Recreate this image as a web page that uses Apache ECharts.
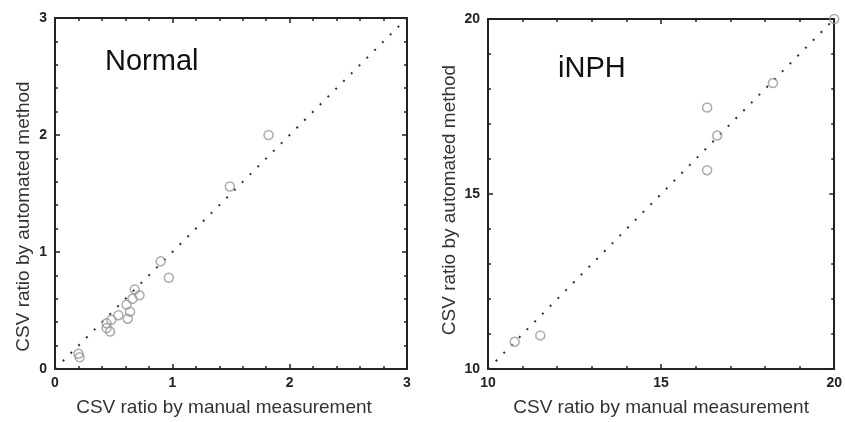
<!DOCTYPE html>
<html>
<head>
<meta charset="utf-8">
<script src="https://cdn.jsdelivr.net/npm/echarts@6/dist/echarts.min.js"></script>
<style>html,body{margin:0;padding:0;background:#fff}#c{width:845px;height:422px}</style>
</head>
<body>
<div id="c"></div>
<script>
// ---- data ----
const normalManual = [1.82, 1.49, 0.90, 0.97, 0.68, 0.72, 0.66, 0.61, 0.64, 0.62, 0.54, 0.48, 0.44, 0.44, 0.47, 0.20, 0.21];
const normalAuto   = [2.00, 1.56, 0.92, 0.78, 0.68, 0.63, 0.60, 0.55, 0.49, 0.43, 0.46, 0.42, 0.39, 0.35, 0.32, 0.13, 0.10];
const inphManual = [10.77, 11.51, 16.33, 16.33, 16.62, 18.23, 20.0];
const inphAuto   = [10.78, 10.96, 17.47, 15.68, 16.67, 18.17, 20.0];
const normalRange = [0, 3];
const inphRange = [10, 20];
const panelTitles = ['Normal', 'iNPH'];
const xName = 'CSV ratio by manual measurement';
const yName = 'CSV ratio by automated method';

const FONT = '"Liberation Sans", Arial, sans-serif';

function axis(range, interval, opts) {
  return Object.assign({
    type: 'value', min: range[0], max: range[1], interval: interval,
    axisLine: { show: true, onZero: false, lineStyle: { color: '#222', width: 2 } },
    axisTick: { show: true, inside: true, length: 5, lineStyle: { color: '#222', width: 1.5 } },
    minorTick: { show: true, splitNumber: 5, length: 3, lineStyle: { color: '#222', width: 1.5 } },
    splitLine: { show: false },
    axisLabel: { show: false }
  }, opts);
}
function labelStyle(margin) {
  return { show: true, margin: margin, color: '#222', fontSize: 14, fontWeight: 'bold', fontFamily: FONT };
}
function nameStyle(padding) {
  return { color: '#333', fontSize: 19, fontFamily: FONT, padding: padding };
}

const zip = (a, b) => a.map((v, i) => [v, b[i]]);

const option = {
  backgroundColor: '#fff',
  animation: false,
  grid: [
    { left: 55, top: 18, width: 352, height: 351 },
    { left: 488, top: 19, width: 349, height: 351 }
  ],
  xAxis: [
    axis(normalRange, 1, { gridIndex: 0, position: 'bottom', axisLabel: labelStyle(7),
      name: xName, nameLocation: 'middle', nameGap: 29, nameTextStyle: nameStyle([0, 14, 0, 0]) }),
    axis(normalRange, 1, { gridIndex: 0, position: 'top' }),
    axis(inphRange, 5, { gridIndex: 1, position: 'bottom', axisLabel: labelStyle(7),
      name: xName, nameLocation: 'middle', nameGap: 29, nameTextStyle: nameStyle([0, 0, 0, 0]) }),
    axis(inphRange, 5, { gridIndex: 1, position: 'top' })
  ],
  yAxis: [
    axis(normalRange, 1, { gridIndex: 0, position: 'left', axisLabel: labelStyle(8),
      name: yName, nameLocation: 'middle', nameGap: 22, nameTextStyle: nameStyle([0, 46, 0, 0]) }),
    axis(normalRange, 1, { gridIndex: 0, position: 'right' }),
    axis(inphRange, 5, { gridIndex: 1, position: 'left', axisLabel: labelStyle(8),
      name: yName, nameLocation: 'middle', nameGap: 29, nameTextStyle: nameStyle([0, 12, 0, 0]) }),
    axis(inphRange, 5, { gridIndex: 1, position: 'right' })
  ],
  graphic: [
    { type: 'text', left: 105, top: 47, style: { text: panelTitles[0], font: '29px ' + FONT, fill: '#111' } },
    { type: 'text', left: 558, top: 54, style: { text: panelTitles[1], font: '29px ' + FONT, fill: '#111' } }
  ],
  series: [
    { type: 'line', xAxisIndex: 0, yAxisIndex: 0, data: zip(normalRange, normalRange), symbol: 'none',
      lineStyle: { color: '#333', width: 2, type: [2, 9] }, z: 1 },
    { type: 'scatter', xAxisIndex: 0, yAxisIndex: 0, data: zip(normalManual, normalAuto),
      symbol: 'circle', symbolSize: 9,
      itemStyle: { color: 'rgba(255,255,255,0)', borderColor: '#999', borderWidth: 1.5 }, z: 2 },
    { type: 'line', xAxisIndex: 2, yAxisIndex: 2, data: zip(inphRange, inphRange), symbol: 'none',
      lineStyle: { color: '#333', width: 2, type: [2, 9] }, z: 1 },
    { type: 'scatter', xAxisIndex: 2, yAxisIndex: 2, data: zip(inphManual, inphAuto),
      symbol: 'circle', symbolSize: 9, clip: false,
      itemStyle: { color: 'rgba(255,255,255,0)', borderColor: '#999', borderWidth: 1.5 }, z: 2 }
  ]
};
const chart = echarts.init(document.getElementById('c'), null, { renderer: 'canvas' });
chart.setOption(option);
</script>
</body>
</html>
